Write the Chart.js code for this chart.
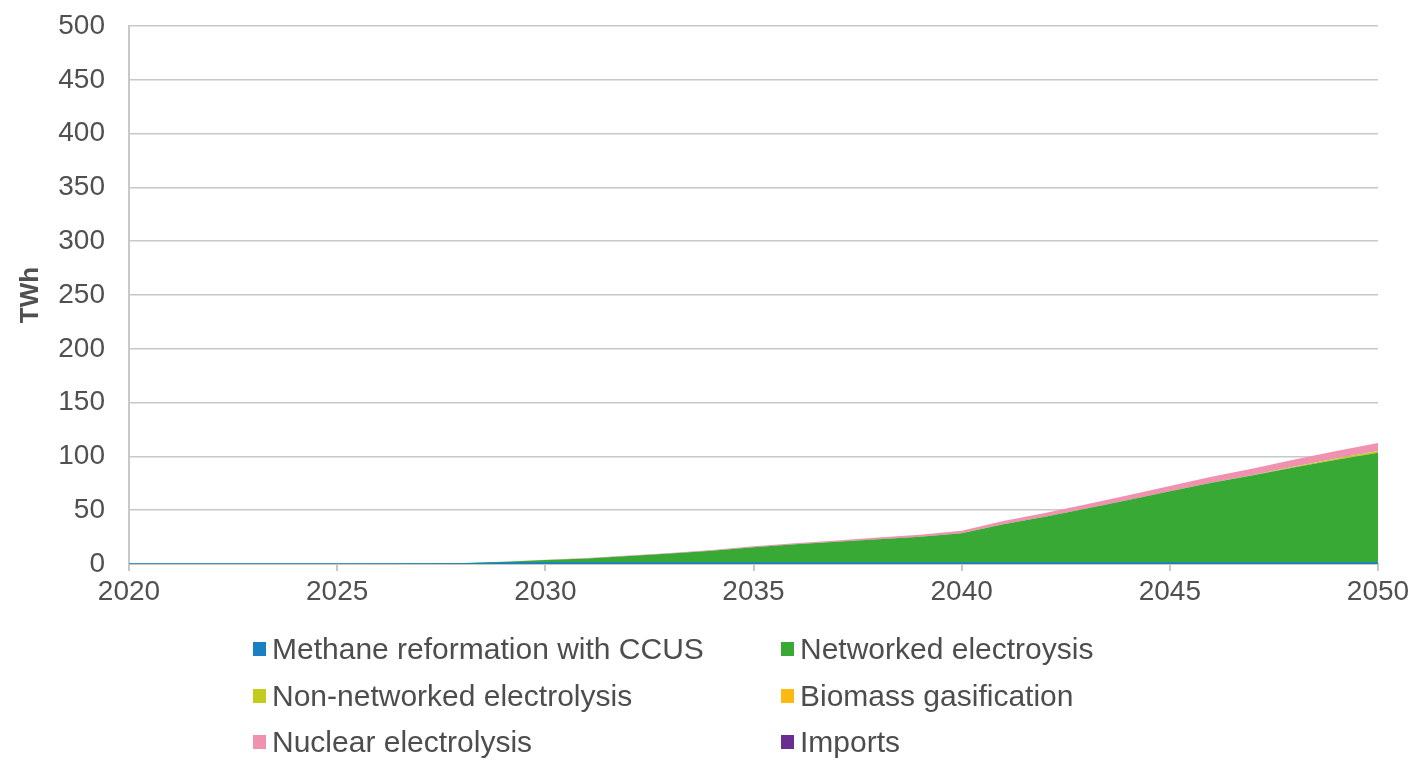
<!DOCTYPE html>
<html>
<head>
<meta charset="utf-8">
<script src="https://cdn.jsdelivr.net/npm/chart.js@4/dist/chart.umd.min.js"></script>
<style>
  html, body { margin: 0; padding: 0; background: #fff; }
  #wrap { position: relative; width: 1411px; height: 761px; }
  canvas { position: absolute; left: 0; top: 0; }
  .legend { position: absolute; font-family: "Liberation Sans", Arial, sans-serif; font-size: 30px; line-height: 30px; color: #4d4d4d; white-space: nowrap; }
  .box { position: absolute; width: 13px; height: 14px; }
</style>
</head>
<body>
<div id="wrap">
  <canvas id="chart" width="1411" height="761"></canvas>
  <div id="legend"></div>
</div>
<script>
// years on the x axis
const years = [2020,2021,2022,2023,2024,2025,2026,2027,2028,2029,2030,2031,2032,2033,2034,2035,2036,2037,2038,2039,2040,2041,2042,2043,2044,2045,2046,2047,2048,2049,2050];

// TWh per source
const methaneCCUS  = [0,0,0,0,0,0,0,0,0,1,1,1,1,1,1,1,1,1,1,1,1,1,1,1,1,1,1,1,1,1,1];
const networked    = [0,0,0,0,0,0,0.2,0.5,1,1.2,2.8,4.2,6.4,8.7,11.4,14.6,17.4,19.6,22,24.3,27.5,36,43,50.5,58.5,66.5,74.5,81.5,89,96,102.5];
const nonNetworked = [0,0,0,0,0,0,0,0,0,0,0,0,0,0,0,0,0,0,0,0,0,0,0,0,0,0,0,0.3,0.6,1,1.5];
const biomass      = [0,0,0,0,0,0,0,0,0,0,0,0,0,0,0,0,0,0,0,0,0,0,0,0,0,0,0,0,0,0,0];
const nuclear      = [0,0,0,0,0,0,0,0,0,0,0.2,0.3,0.4,0.5,0.6,0.8,1,1.3,1.6,2,2.5,3,3.5,4,4.5,5,5.5,6,6.5,7,7.5];
const imports      = [0,0,0,0,0,0,0,0,0,0,0,0,0,0,0,0,0,0,0,0,0,0,0,0,0,0,0,0,0,0,0];

const yTicks = [0,50,100,150,200,250,300,350,400,450,500];
const xTicks = [2020,2025,2030,2035,2040,2045,2050];

const series = [
  { label: 'Methane reformation with CCUS', data: methaneCCUS, color: '#1b7fc4', border: 1.5 },
  { label: 'Networked electroysis', data: networked, color: '#39a935', border: 0 },
  { label: 'Non-networked electrolysis', data: nonNetworked, color: '#c0cd1f', border: 0 },
  { label: 'Biomass gasification', data: biomass, color: '#fdb913', border: 0 },
  { label: 'Nuclear electrolysis', data: nuclear, color: '#f091b0', border: 0 },
  { label: 'Imports', data: imports, color: '#6a2d91', border: 0 }
];

const gridColor = '#c8c8c8';
const textColor = '#505050';
const fontFam = '"Liberation Sans", Arial, sans-serif';

new Chart(document.getElementById('chart'), {
  type: 'line',
  data: {
    datasets: series.map((s, i) => ({
      label: s.label,
      data: years.map((y, j) => ({ x: y, y: s.data[j] })),
      backgroundColor: s.color,
      borderColor: s.color,
      borderWidth: s.border,
      pointRadius: 0,
      tension: 0,
      fill: i === 0 ? 'origin' : '-1'
    }))
  },
  options: {
    responsive: false,
    animation: false,
    layout: { padding: { left: 0, right: 33, top: 26, bottom: 147 } },
    plugins: { legend: { display: false }, tooltip: { enabled: false } },
    scales: {
      x: {
        type: 'linear',
        min: 2020, max: 2050,
        afterBuildTicks: (s) => { s.ticks = xTicks.map(v => ({ value: v })); },
        afterFit: (s) => { s.height = 50; s.paddingLeft = 0; s.paddingRight = 0; },
        ticks: { color: textColor, font: { family: fontFam, size: 28 }, padding: 4, callback: v => String(v), maxRotation: 0 },
        grid: { drawOnChartArea: false, color: gridColor, lineWidth: 2, tickLength: 7 },
        border: { color: gridColor, width: 2 }
      },
      y: {
        stacked: true,
        min: 0, max: 500,
        afterBuildTicks: (s) => { s.ticks = yTicks.map(v => ({ value: v })); },
        afterFit: (s) => { s.width = 129; s.paddingTop = 0; s.paddingBottom = 0; },
        ticks: { color: textColor, font: { family: fontFam, size: 28 }, padding: 24 },
        grid: { color: gridColor, lineWidth: 1.5, drawTicks: false },
        border: { color: gridColor, width: 2 },
        title: { display: true, text: 'TWh', color: textColor, font: { family: fontFam, size: 26, weight: 'bold' }, padding: { top: 15, bottom: 0 } }
      }
    }
  }
});

// two-column legend under the plot
const colBox = [253, 781];
const colText = [272, 800];
const rowTop = [634, 681, 727];
const legendEl = document.getElementById('legend');
series.forEach((s, i) => {
  const c = i % 2, r = Math.floor(i / 2);
  const b = document.createElement('div');
  b.className = 'box';
  b.style.left = colBox[c] + 'px';
  b.style.top = (rowTop[r] + 8) + 'px';
  b.style.background = s.color;
  legendEl.appendChild(b);
  const t = document.createElement('div');
  t.className = 'legend';
  t.style.left = colText[c] + 'px';
  t.style.top = rowTop[r] + 'px';
  t.textContent = s.label;
  legendEl.appendChild(t);
});
</script>
</body>
</html>
